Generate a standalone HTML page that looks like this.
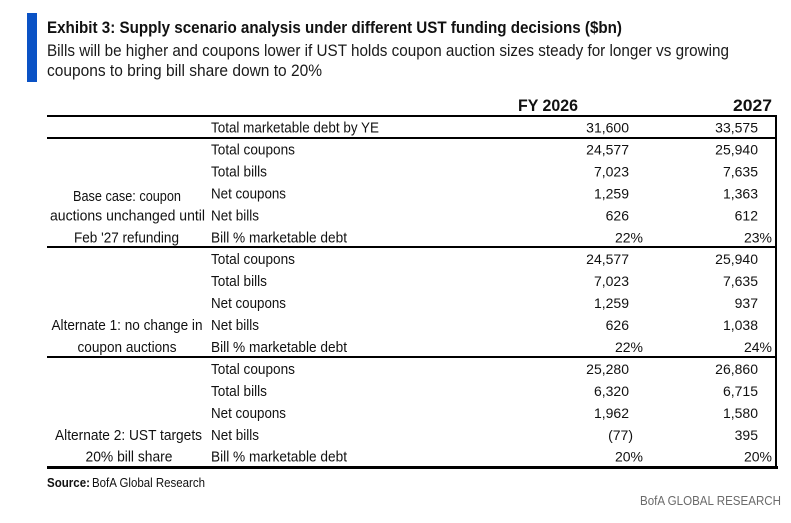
<!DOCTYPE html>
<html>
<head>
<meta charset="utf-8">
<style>
  html, body { margin:0; padding:0; background:#ffffff; }
  body { width:791px; height:523px; overflow:hidden; }
  svg { display:block; }
  text { font-family: "Liberation Sans", Arial, sans-serif; fill:#111; }
  .t { font-size:17px; font-weight:bold; }
  .s { font-size:16.5px; fill:#1a1a1a; }
  .h { font-size:17px; font-weight:bold; }
  .l { font-size:15px; }
  .n { font-size:14px; }
  .src { font-size:13px; }
  .bofa { font-size:12.5px; fill:#6a6a6a; }
</style>
</head>
<body>
<svg width="791" height="523" viewBox="0 0 791 523" xmlns="http://www.w3.org/2000/svg">
  <!-- blue bar -->
  <rect x="27" y="13" width="10" height="69" fill="#0a52c5"/>

  <!-- title -->
  <text class="t" x="47" y="33" textLength="575" lengthAdjust="spacingAndGlyphs">Exhibit 3: Supply scenario analysis under different UST funding decisions ($bn)</text>
  <text class="s" x="47" y="56" textLength="682" lengthAdjust="spacingAndGlyphs">Bills will be higher and coupons lower if UST holds coupon auction sizes steady for longer vs growing</text>
  <text class="s" x="47" y="76" textLength="275" lengthAdjust="spacingAndGlyphs">coupons to bring bill share down to 20%</text>

  <!-- header -->
  <text class="h" x="578" y="111" text-anchor="end" textLength="60" lengthAdjust="spacingAndGlyphs">FY 2026</text>
  <text class="h" x="772" y="111" text-anchor="end" textLength="39" lengthAdjust="spacingAndGlyphs">2027</text>

  <!-- lines -->
  <rect x="47" y="115" width="730" height="2" fill="#000"/>
  <rect x="47" y="137" width="730" height="2" fill="#000"/>
  <rect x="47" y="246" width="730" height="2" fill="#000"/>
  <rect x="47" y="356" width="730" height="2" fill="#000"/>
  <rect x="47" y="466" width="731" height="3" fill="#000"/>
  <rect x="775" y="115" width="2" height="354" fill="#000"/>

  <!-- total row -->
  <text class="l" x="211" y="132.5" textLength="168" lengthAdjust="spacingAndGlyphs">Total marketable debt by YE</text>
  <text class="n" x="629" y="132.5" text-anchor="end">31,600</text>
  <text class="n" x="758" y="132.5" text-anchor="end">33,575</text>

  <!-- Base case group -->
  <text class="l" x="211" y="154.5" textLength="84" lengthAdjust="spacingAndGlyphs">Total coupons</text>
  <text class="l" x="211" y="176.5" textLength="56" lengthAdjust="spacingAndGlyphs">Total bills</text>
  <text class="l" x="211" y="198.5" textLength="75" lengthAdjust="spacingAndGlyphs">Net coupons</text>
  <text class="l" x="211" y="220.5" textLength="48" lengthAdjust="spacingAndGlyphs">Net bills</text>
  <text class="l" x="211" y="242.5" textLength="136" lengthAdjust="spacingAndGlyphs">Bill % marketable debt</text>

  <text class="l" x="127" y="201" text-anchor="middle" textLength="108" lengthAdjust="spacingAndGlyphs">Base case: coupon</text>
  <text class="l" x="127.5" y="220.5" text-anchor="middle" textLength="155" lengthAdjust="spacingAndGlyphs">auctions unchanged until</text>
  <text class="l" x="126.5" y="242.5" text-anchor="middle" textLength="105" lengthAdjust="spacingAndGlyphs">Feb '27 refunding</text>

  <text class="n" x="629" y="154.5" text-anchor="end">24,577</text>
  <text class="n" x="758" y="154.5" text-anchor="end">25,940</text>
  <text class="n" x="629" y="176.5" text-anchor="end">7,023</text>
  <text class="n" x="758" y="176.5" text-anchor="end">7,635</text>
  <text class="n" x="629" y="198.5" text-anchor="end">1,259</text>
  <text class="n" x="758" y="198.5" text-anchor="end">1,363</text>
  <text class="n" x="629" y="220.5" text-anchor="end">626</text>
  <text class="n" x="758" y="220.5" text-anchor="end">612</text>
  <text class="n" x="643" y="242.5" text-anchor="end">22%</text>
  <text class="n" x="772" y="242.5" text-anchor="end">23%</text>

  <!-- Alternate 1 group -->
  <text class="l" x="211" y="264" textLength="84" lengthAdjust="spacingAndGlyphs">Total coupons</text>
  <text class="l" x="211" y="286" textLength="56" lengthAdjust="spacingAndGlyphs">Total bills</text>
  <text class="l" x="211" y="308" textLength="75" lengthAdjust="spacingAndGlyphs">Net coupons</text>
  <text class="l" x="211" y="330" textLength="48" lengthAdjust="spacingAndGlyphs">Net bills</text>
  <text class="l" x="211" y="352" textLength="136" lengthAdjust="spacingAndGlyphs">Bill % marketable debt</text>

  <text class="l" x="127" y="330" text-anchor="middle" textLength="151" lengthAdjust="spacingAndGlyphs">Alternate 1: no change in</text>
  <text class="l" x="127" y="352" text-anchor="middle" textLength="99" lengthAdjust="spacingAndGlyphs">coupon auctions</text>

  <text class="n" x="629" y="264" text-anchor="end">24,577</text>
  <text class="n" x="758" y="264" text-anchor="end">25,940</text>
  <text class="n" x="629" y="286" text-anchor="end">7,023</text>
  <text class="n" x="758" y="286" text-anchor="end">7,635</text>
  <text class="n" x="629" y="308" text-anchor="end">1,259</text>
  <text class="n" x="758" y="308" text-anchor="end">937</text>
  <text class="n" x="629" y="330" text-anchor="end">626</text>
  <text class="n" x="758" y="330" text-anchor="end">1,038</text>
  <text class="n" x="643" y="352" text-anchor="end">22%</text>
  <text class="n" x="772" y="352" text-anchor="end">24%</text>

  <!-- Alternate 2 group -->
  <text class="l" x="211" y="374" textLength="84" lengthAdjust="spacingAndGlyphs">Total coupons</text>
  <text class="l" x="211" y="396" textLength="56" lengthAdjust="spacingAndGlyphs">Total bills</text>
  <text class="l" x="211" y="418" textLength="75" lengthAdjust="spacingAndGlyphs">Net coupons</text>
  <text class="l" x="211" y="440" textLength="48" lengthAdjust="spacingAndGlyphs">Net bills</text>
  <text class="l" x="211" y="461.5" textLength="136" lengthAdjust="spacingAndGlyphs">Bill % marketable debt</text>

  <text class="l" x="128.5" y="440" text-anchor="middle" textLength="147" lengthAdjust="spacingAndGlyphs">Alternate 2: UST targets</text>
  <text class="l" x="129" y="461.5" text-anchor="middle" textLength="87" lengthAdjust="spacingAndGlyphs">20% bill share</text>

  <text class="n" x="629" y="374" text-anchor="end">25,280</text>
  <text class="n" x="758" y="374" text-anchor="end">26,860</text>
  <text class="n" x="629" y="396" text-anchor="end">6,320</text>
  <text class="n" x="758" y="396" text-anchor="end">6,715</text>
  <text class="n" x="629" y="418" text-anchor="end">1,962</text>
  <text class="n" x="758" y="418" text-anchor="end">1,580</text>
  <text class="n" x="633" y="440" text-anchor="end">(77)</text>
  <text class="n" x="758" y="440" text-anchor="end">395</text>
  <text class="n" x="643" y="461.5" text-anchor="end">20%</text>
  <text class="n" x="772" y="461.5" text-anchor="end">20%</text>

  <!-- source -->
  <text class="src" x="47" y="487" font-weight="bold" textLength="43" lengthAdjust="spacingAndGlyphs">Source:</text>
  <text class="src" x="92" y="487" textLength="113" lengthAdjust="spacingAndGlyphs">BofA Global Research</text>

  <!-- footer brand -->
  <text class="bofa" x="640" y="505" textLength="141" lengthAdjust="spacingAndGlyphs">BofA GLOBAL RESEARCH</text>
</svg>
</body>
</html>
